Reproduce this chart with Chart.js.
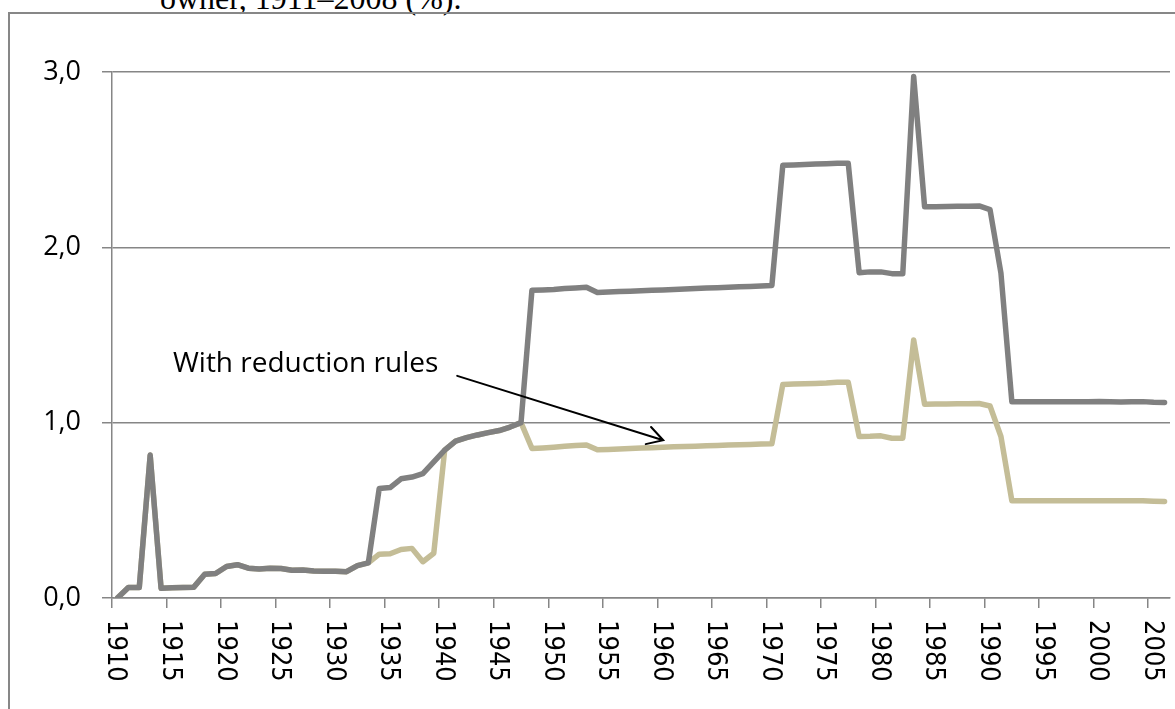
<!DOCTYPE html>
<html><head><meta charset="utf-8">
<script src="https://cdn.jsdelivr.net/npm/chart.js@4.4.1/dist/chart.umd.min.js"></script>
<style>
html,body{margin:0;padding:0;background:#fff;width:1175px;height:709px;overflow:hidden;position:relative}
#frame{position:absolute;left:8px;top:12px;width:1200px;height:800px;border-left:2px solid #878787;border-top:2px solid #878787}
#doc{position:absolute;left:160px;top:-18px;font-family:"Liberation Serif",serif;font-size:32px;line-height:32px;white-space:nowrap;color:#000}
#wrap{position:absolute;left:0;top:0;width:1175px;height:709px}
</style></head><body>
<div id="doc">owner, 1911–2008 (%).</div>
<div id="frame"></div>
<div id="wrap"><canvas id="c"></canvas></div>
<script>
const years = ['1910','1911','1912','1913','1914','1915','1916','1917','1918','1919',
'1920','1921','1922','1923','1924','1925','1926','1927','1928','1929',
'1930','1931','1932','1933','1934','1935','1936','1937','1938','1939',
'1940','1941','1942','1943','1944','1945','1946','1947','1948','1949',
'1950','1951','1952','1953','1954','1955','1956','1957','1958','1959',
'1960','1961','1962','1963','1964','1965','1966','1967','1968','1969',
'1970','1971','1972','1973','1974','1975','1976','1977','1978','1979',
'1980','1981','1982','1983','1984','1985','1986','1987','1988','1989',
'1990','1991','1992','1993','1994','1995','1996','1997','1998','1999',
'2000','2001','2002','2003','2004','2005','2006'];

const tickYears = ['1910','1915','1920','1925','1930','1935','1940','1945','1950','1955',
'1960','1965','1970','1975','1980','1985','1990','1995','2000','2005'];

const yTicks = [0, 1, 2, 3];

const withoutRules = [0.00,0.06,0.06,0.815,0.055,0.058,0.06,0.062,0.135,0.14,
0.18,0.19,0.17,0.165,0.17,0.168,0.158,0.16,0.154,0.153,
0.153,0.15,0.185,0.2,0.625,0.63,0.68,0.69,0.71,0.777,
0.843,0.895,0.915,0.93,0.943,0.955,0.975,1.0,1.755,1.757,
1.76,1.765,1.768,1.772,1.742,1.745,1.748,1.75,1.752,1.755,
1.757,1.76,1.762,1.765,1.768,1.77,1.772,1.775,1.777,1.78,
1.783,2.468,2.47,2.472,2.475,2.477,2.48,2.48,1.855,1.86,
1.86,1.85,1.85,2.974,2.232,2.232,2.233,2.234,2.235,2.236,
2.215,1.853,1.119,1.12,1.12,1.12,1.12,1.12,1.12,1.12,
1.121,1.12,1.118,1.12,1.12,1.116,1.115];

const withRules = [0.00,0.06,0.06,0.815,0.055,0.058,0.06,0.062,0.135,0.14,
0.18,0.19,0.17,0.165,0.17,0.168,0.158,0.16,0.154,0.153,
0.153,0.15,0.185,0.2,0.25,0.252,0.277,0.283,0.207,0.255,
0.843,0.895,0.915,0.93,0.943,0.955,0.975,1.0,0.853,0.856,
0.86,0.865,0.87,0.873,0.845,0.847,0.85,0.852,0.855,0.857,
0.86,0.862,0.864,0.866,0.868,0.87,0.872,0.874,0.876,0.878,
0.88,1.217,1.22,1.222,1.224,1.226,1.23,1.23,0.921,0.922,
0.925,0.911,0.911,1.472,1.105,1.106,1.107,1.108,1.108,1.109,
1.095,0.921,0.555,0.555,0.555,0.555,0.555,0.555,0.555,0.555,
0.555,0.555,0.555,0.555,0.554,0.552,0.551];

const annotationText = 'With reduction rules';
// annotation anchors in data units: [category index, value]
const annotationTextAt = [5.09, 1.29];
const arrowFrom = [31.15, 1.267];
const arrowTo = [50.04, 0.90];

const xLabelPlugin = {
  id: 'xlabels',
  afterDraw(chart) {
    const s = chart.scales.x;
    const ctx = chart.ctx;
    ctx.save();
    ctx.font = '27px "DejaVu Sans Condensed", "DejaVu Sans"';
    ctx.fillStyle = '#000';
    ctx.textAlign = 'left';
    ctx.textBaseline = 'middle';
    tickYears.forEach(lbl => {
      const i = years.indexOf(lbl);
      const x = s.getPixelForValue(i) - 2;
      ctx.save();
      ctx.translate(x, s.top + 22);
      ctx.rotate(Math.PI / 2);
      ctx.fillText(lbl, 0, 0);
      ctx.restore();
    });
    ctx.restore();
  }
};

const annotationPlugin = {
  id: 'annot',
  afterDraw(chart) {
    const xs = chart.scales.x, ys = chart.scales.y, ctx = chart.ctx;
    ctx.save();
    ctx.font = '28px "Open Sans"';
    ctx.fillStyle = '#000';
    ctx.textAlign = 'left';
    ctx.textBaseline = 'alphabetic';
    ctx.fillText(annotationText, xs.getPixelForValue(annotationTextAt[0]), ys.getPixelForValue(annotationTextAt[1]));
    const x1 = xs.getPixelForValue(arrowFrom[0]), y1 = ys.getPixelForValue(arrowFrom[1]);
    const x2 = xs.getPixelForValue(arrowTo[0]), y2 = ys.getPixelForValue(arrowTo[1]);
    ctx.strokeStyle = '#000';
    ctx.lineWidth = 2;
    ctx.lineCap = 'round';
    ctx.beginPath();
    ctx.moveTo(x1, y1);
    ctx.lineTo(x2, y2);
    const ang = Math.atan2(y2 - y1, x2 - x1);
    const hl = 18, ha = Math.PI / 6;
    ctx.moveTo(x2 - hl * Math.cos(ang - ha), y2 - hl * Math.sin(ang - ha));
    ctx.lineTo(x2, y2);
    ctx.lineTo(x2 - hl * Math.cos(ang + ha), y2 - hl * Math.sin(ang + ha));
    ctx.stroke();
    ctx.restore();
  }
};

new Chart(document.getElementById('c'), {
  type: 'line',
  data: {
    labels: years,
    datasets: [
      {label: 'Without reduction rules', data: withoutRules, borderColor: '#808080', borderWidth: 5.5,
       pointRadius: 0, tension: 0, borderJoinStyle: 'round', borderCapStyle: 'round', fill: false},
      {label: 'With reduction rules', data: withRules, borderColor: '#C4BD97', borderWidth: 5.5,
       pointRadius: 0, tension: 0, borderJoinStyle: 'round', borderCapStyle: 'round', fill: false}
    ]
  },
  options: {
    responsive: true, maintainAspectRatio: false, animation: false,
    layout: {padding: {top: 72, right: 5, left: 0, bottom: 0}},
    plugins: {legend: {display: false}, tooltip: {enabled: false}, title: {display: false}},
    scales: {
      x: {
        type: 'category', offset: true,
        grid: {offset: true, drawOnChartArea: false, drawTicks: true, tickLength: 10,
               color: c => (c.index !== undefined && c.index % 5 === 0) ? '#868686' : 'rgba(0,0,0,0)', lineWidth: 1.5},
        border: {display: true, color: '#868686', width: 1.5},
        ticks: {display: false, autoSkip: false, maxRotation: 0},
        afterFit: s => { s.height = 111; }
      },
      y: {
        min: 0, max: 3,
        afterBuildTicks: s => { s.ticks = yTicks.map(v => ({value: v})); },
        ticks: {callback: v => Number(v).toFixed(1).replace('.', ','), font: {family: '"Open Sans"', size: 27}, color: '#000', padding: 21},
        grid: {color: '#868686', lineWidth: 1.5, tickLength: 10},
        border: {display: true, color: '#868686', width: 1.5},
        afterFit: s => { s.width = 112; }
      }
    }
  },
  plugins: [xLabelPlugin, annotationPlugin]
});
</script>
</body></html>
